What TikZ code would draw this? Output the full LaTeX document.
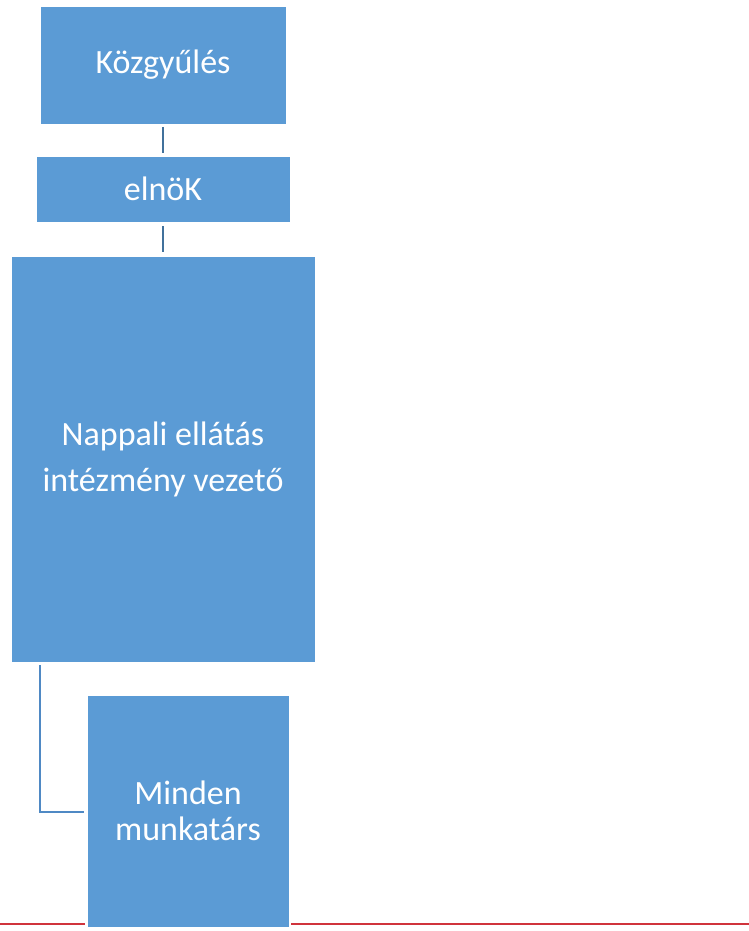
\documentclass[tikz,border=0pt]{standalone}
\usepackage{fontspec}
\setmainfont{Carlito}
\definecolor{boxblue}{HTML}{5B9BD5}
\definecolor{linkblue}{HTML}{41719C}
\definecolor{elbowblue}{HTML}{4F89C4}
\definecolor{rulered}{HTML}{D0343C}
\begin{document}
\begin{tikzpicture}[x=1pt,y=-1pt,
  orgbox/.style={draw=white, line width=0.8pt, fill=boxblue, text=white, align=center, inner sep=0pt},
  link/.style={draw=linkblue, line width=2.4pt},
  elbow/.style={draw=elbowblue, line width=2.6pt},
  redrule/.style={draw=rulered, line width=2.2pt}]
\useasboundingbox (0,0) rectangle (749,931);
% red rule
\coordinate (rl0) at (0,923.7);
\coordinate (rl1) at (85,923.7);
\coordinate (rr0) at (291,923.7);
\coordinate (rr1) at (749,923.7);
\draw[redrule] (rl0) -- (rl1);
\draw[redrule] (rr0) -- (rr1);
% boxes
\node[orgbox, minimum width=246pt, minimum height=118pt, font=\fontsize{34}{40}\selectfont] (kgy) at (163,65) {Közgyűlés};
\node[orgbox, minimum width=254pt, minimum height=66pt, font=\fontsize{34}{40}\selectfont] (eln) at (163,189) {elnöK};
\node[orgbox, minimum width=304pt, minimum height=406pt, font=\fontsize{34}{46}\selectfont] (nap) at (163,459) {Nappali ellátás\\intézmény vezető};
\node[orgbox, minimum width=202pt, minimum height=232pt, font=\fontsize{34}{36}\selectfont] (mun) at (188,811) {Minden\\munkatárs};
% connectors
\coordinate (c1a) at (163,127);
\coordinate (c1b) at (163,153);
\coordinate (c2a) at (163,226);
\coordinate (c2b) at (163,252);
\draw[link] (c1a) -- (c1b);
\draw[link] (c2a) -- (c2b);
\coordinate (e0) at (40,665);
\coordinate (e1) at (84,812);
\draw[elbow] (e0) |- (e1);
\end{tikzpicture}
\end{document}
